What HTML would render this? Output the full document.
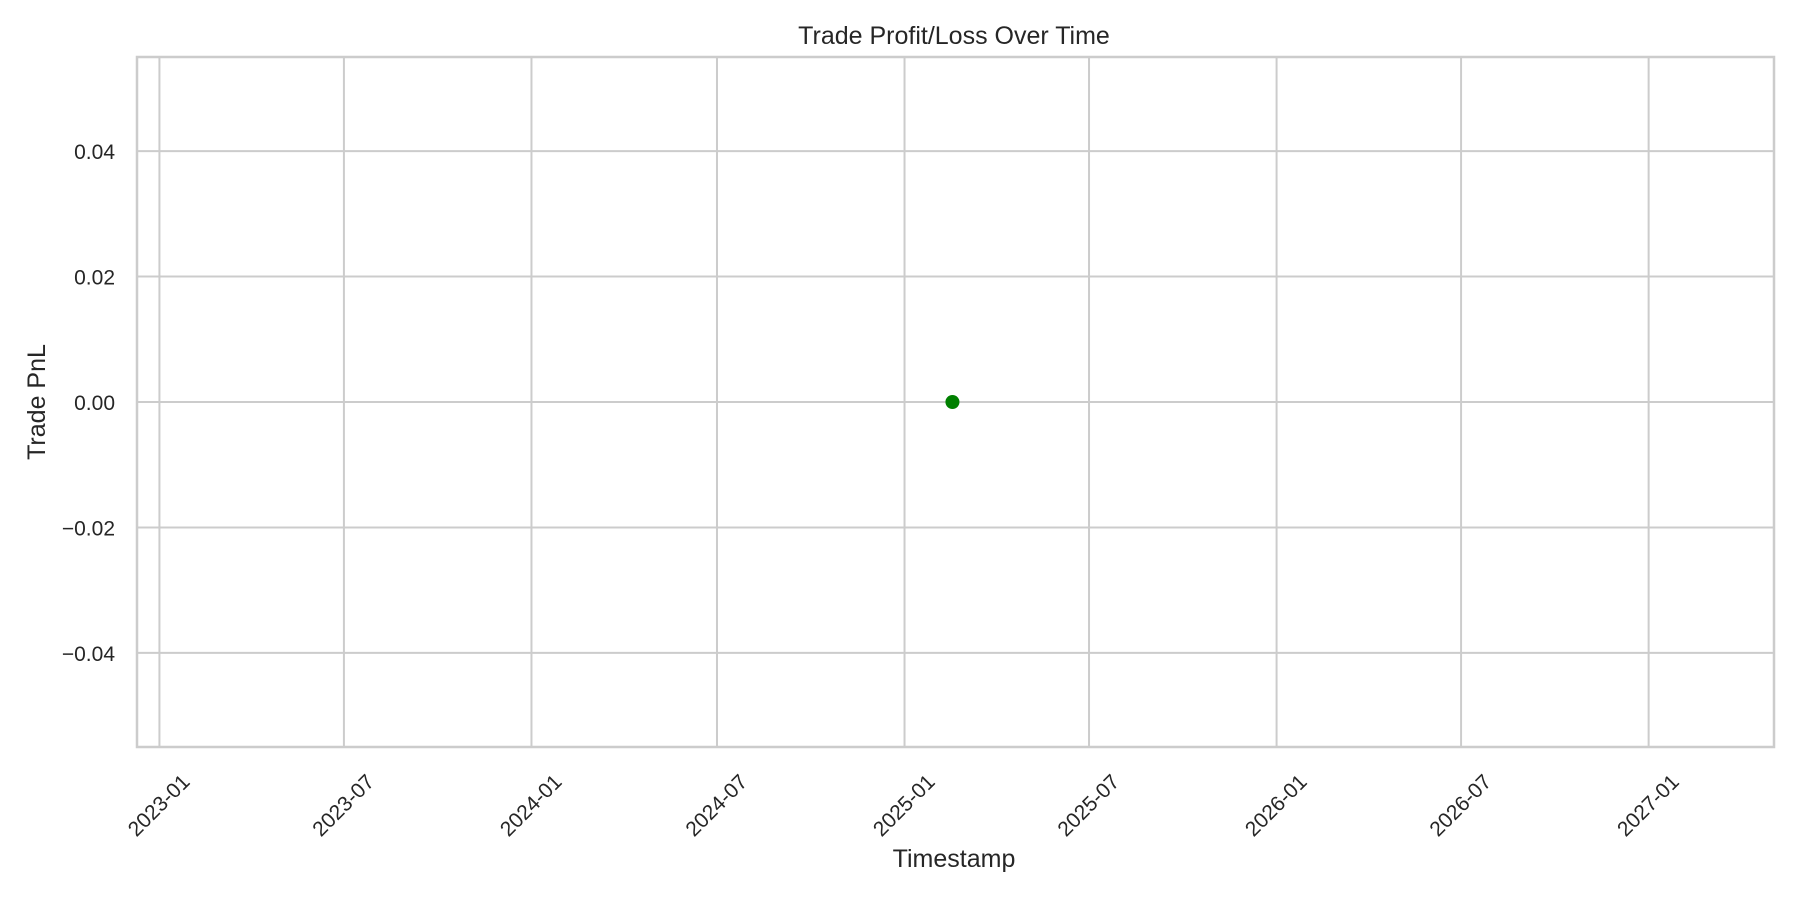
<!DOCTYPE html>
<html><head><meta charset="utf-8"><style>
html,body{margin:0;padding:0;background:#fff;}
svg text{font-family:"Liberation Sans",Arial,sans-serif;fill:#262626;}
</style></head><body>
<svg id="chart" width="1800" height="900" viewBox="0 0 1800 900" xmlns="http://www.w3.org/2000/svg">
<text x="954" y="44" font-size="25" text-anchor="middle">Trade Profit/Loss Over Time</text>
<g id="grid"></g>
<g id="ticks"></g>
<rect x="137" y="57" width="1637" height="690" fill="none" stroke="#cccccc" stroke-width="2.5"/>
<g id="marks"></g>
<text x="954" y="867" font-size="25" text-anchor="middle">Timestamp</text>
<text transform="translate(45,402) rotate(-90)" font-size="25" text-anchor="middle">Trade PnL</text>
</svg>
<script>
const tradeDates = ["2025-02-17"];
const tradePnl = [0.0];
const xTickLabels = ["2023-01","2023-07","2024-01","2024-07","2025-01","2025-07","2026-01","2026-07","2027-01"];
const yTickValues = [-0.04,-0.02,0.00,0.02,0.04];
const yTickLabels = ["\u22120.04","\u22120.02","0.00","0.02","0.04"];

const NS="http://www.w3.org/2000/svg";
const L=137,R=1774,T=57,B=747;
const xMin=Date.UTC(2022,11,10), xMax=Date.UTC(2027,4,4);
const yMin=-0.055, yMax=0.055;
function xs(d){const t=(typeof d==="number")?d:Date.parse(d+"T00:00:00Z");return L+(t-xMin)/(xMax-xMin)*(R-L);}
function ys(v){return B-(v-yMin)/(yMax-yMin)*(B-T);}
function mk(tag,attrs,parent){const e=document.createElementNS(NS,tag);for(const k in attrs)e.setAttribute(k,attrs[k]);parent.appendChild(e);return e;}
const grid=document.getElementById('grid'),ticks=document.getElementById('ticks'),marks=document.getElementById('marks');
xTickLabels.forEach(lbl=>{
  const x=xs(lbl+"-01");
  const g=mk('line',{x1:x,x2:x,y1:T,y2:B,stroke:'#cccccc','stroke-width':2},grid);
  
  
  const t=mk('text',{transform:`translate(${x-1},${B+58}) rotate(-45)`,'font-size':21,'text-anchor':'middle',dy:'0.36em'},ticks);
  t.textContent=lbl;
  
  
});
yTickValues.forEach((v,i)=>{
  const y=ys(v);
  const g=mk('line',{x1:L,x2:R,y1:y,y2:y,stroke:'#cccccc','stroke-width':2},grid);
  
  
  const t=mk('text',{x:115,y:y+8,'font-size':21,'text-anchor':'end'},ticks);
  t.textContent=yTickLabels[i];
  
  
});
tradeDates.forEach((d,i)=>{
  const c=mk('circle',{cx:xs(d),cy:ys(tradePnl[i]),r:7,fill:'#008000'},marks);
  
  
});
</script>
</body></html>
